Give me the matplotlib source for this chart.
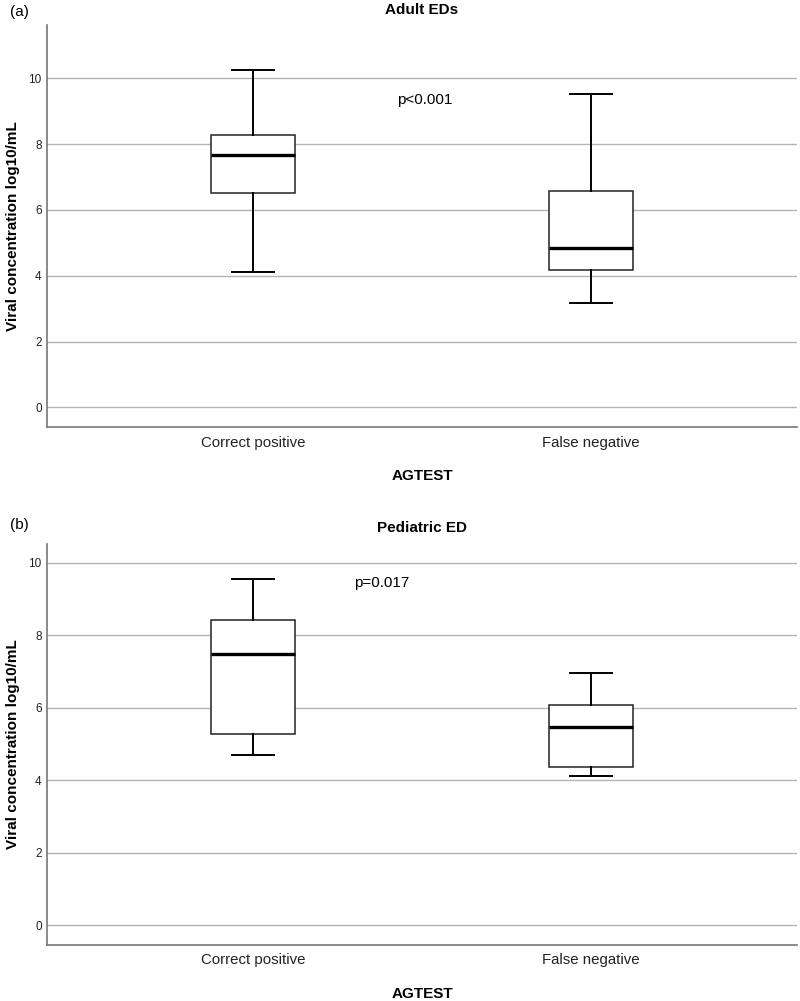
import matplotlib.pyplot as plt

plt.rcParams['font.family'] = ['Liberation Sans', 'DejaVu Sans']

groups = ['Correct positive', 'False negative']

# panel (a) Adult EDs: whisker low, Q1, median, Q3, whisker high
adult_low = [4.10, 3.17]
adult_q1 = [6.53, 4.16]
adult_med = [7.68, 4.85]
adult_q3 = [8.27, 6.58]
adult_high = [10.25, 9.51]

# panel (b) Pediatric ED
ped_low = [4.70, 4.11]
ped_q1 = [5.29, 4.36]
ped_med = [7.47, 5.47]
ped_q3 = [8.42, 6.07]
ped_high = [9.56, 6.97]

yticks = [0, 2, 4, 6, 8, 10]


def make_stats(low, q1, med, q3, high):
    stats = []
    for i in range(len(groups)):
        stats.append({'whislo': low[i], 'q1': q1[i], 'med': med[i],
                      'q3': q3[i], 'whishi': high[i], 'fliers': [],
                      'label': groups[i]})
    return stats


def draw_panel(ax, stats, title, tag, tag_y, ptext, pxy, ylim):
    ax.bxp(stats, positions=range(len(groups)), widths=0.25,
           capwidths=0.125, showfliers=False, patch_artist=True,
           boxprops=dict(facecolor='white', edgecolor='#222222', linewidth=1.1),
           whiskerprops=dict(color='black', linewidth=1.4),
           capprops=dict(color='black', linewidth=1.4),
           medianprops=dict(color='black', linewidth=2.4))
    ax.set_xlim(-0.61, 1.61)
    ax.set_ylim(ylim)
    ax.set_yticks(yticks)
    ax.grid(axis='y', color='#b4b4b4', linewidth=1.0)
    ax.set_axisbelow(True)
    for s in ['top', 'right']:
        ax.spines[s].set_visible(False)
    ax.spines['left'].set_color('#777777')
    ax.spines['bottom'].set_color('#777777')
    ax.spines['left'].set_linewidth(1.2)
    ax.spines['bottom'].set_linewidth(1.2)
    ax.tick_params(axis='both', length=0)
    ax.tick_params(axis='y', labelsize=8.5, pad=4, labelcolor='#222222')
    ax.tick_params(axis='x', labelsize=10.8, pad=6, labelcolor='#222222')
    ax.set_ylabel('Viral concentration log10/mL', fontsize=11,
                  fontweight='bold', labelpad=6)
    ax.set_xlabel('AGTEST', fontsize=11, fontweight='bold', labelpad=14)
    ax.set_title(title, fontsize=11, fontweight='bold', pad=8)
    ax.text(pxy[0], pxy[1], ptext, fontsize=11, ha='center', va='center')
    ax.text(-0.05, tag_y, tag, transform=ax.transAxes, fontsize=11,
            ha='left', va='center')


fig = plt.figure(figsize=(8, 10.01), dpi=100)
ax1 = fig.add_axes([0.059, 0.573, 0.937, 0.402])
ax2 = fig.add_axes([0.059, 0.056, 0.937, 0.401])

draw_panel(ax1, make_stats(adult_low, adult_q1, adult_med, adult_q3, adult_high),
           'Adult EDs', '(a)', 1.032, 'p<0.001', (0.509, 9.35), (-0.61, 11.62))
draw_panel(ax2, make_stats(ped_low, ped_q1, ped_med, ped_q3, ped_high),
           'Pediatric ED', '(b)', 1.045, 'p=0.017', (0.382, 9.44), (-0.54, 10.53))

fig.savefig('out.png', dpi=100)
